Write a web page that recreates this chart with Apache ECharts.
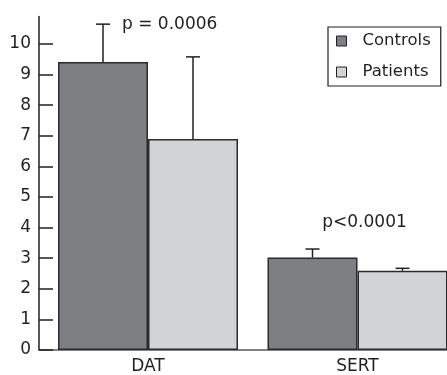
<!DOCTYPE html>
<html><head><meta charset="utf-8">
<script src="https://cdn.jsdelivr.net/npm/echarts@6/dist/echarts.min.js"></script>
<style>html,body{margin:0;padding:0;background:#fff}#c{width:447px;height:375px}</style>
</head><body><div id="c"></div>
<script>
var categories = ['DAT', 'SERT'];
var controls = [9.41, 3.02];
var controlsUpper = [10.65, 3.30];
var patients = [6.90, 2.59];
var patientsUpper = [9.58, 2.67];
var yTicks = [0,1,2,3,4,5,6,7,8,9,10];
var pLabels = ['p = 0.0006', 'p<0.0001'];

var FONT = 'DejaVu Sans';
var TXT = '#231f20';
var chart = echarts.init(document.getElementById('c'));

function pts(vals){ return vals.map(function(v,i){ return [i+1, v]; }); }
function errData(means, ups){ return means.map(function(m,i){ return [i+1, m, ups[i]]; }); }
function errSeries(means, ups, dir){
  return {
    type:'custom', silent:true, z:5, clip:false,
    data: errData(means, ups),
    encode:{x:0, y:[1,2]},
    renderItem:function(params, api){
      var c = api.coord([api.value(0), api.value(1)]);
      var t = api.coord([api.value(0), api.value(2)]);
      var x = c[0] + dir*45;
      var s = {stroke:TXT, lineWidth:1.5};
      return {type:'group', children:[
        {type:'line', shape:{x1:x,y1:c[1],x2:x,y2:t[1]}, style:s},
        {type:'line', shape:{x1:x-7,y1:t[1],x2:x+7,y2:t[1]}, style:s}
      ]};
    }
  };
}

chart.setOption({
  animation:false,
  textStyle:{fontFamily:FONT, color:TXT},
  grid:{left:39, right:0, top:16.5, bottom:25, containLabel:false},
  legend:{
    orient:'vertical', left:328, top:27,
    data:['Controls','Patients'],
    itemWidth:10, itemHeight:10, itemGap:11,
    icon:'rect',
    borderColor:TXT, borderWidth:1.2,
    padding:[4,10,4,8],
    textStyle:{fontFamily:FONT, fontSize:16.5, color:TXT, lineHeight:20, padding:[0,0,0,11]},
    itemStyle:{borderColor:TXT, borderWidth:1}
  },
  xAxis:{
    type:'value', min:0.4797, max:2.4272,
    splitLine:{show:false},
    axisLine:{show:true, onZero:false, lineStyle:{color:'#58585a', width:1.5}},
    axisTick:{show:false},
    axisLabel:{customValues:[1,2], formatter:function(v){return categories[Math.round(v)-1];},
      fontFamily:FONT, fontSize:17, color:TXT, margin:8}
  },
  yAxis:{
    type:'value', min:0, max:10.9, interval:1,
    splitLine:{show:false},
    axisLine:{show:true, lineStyle:{color:TXT, width:1.5}},
    axisTick:{show:true, inside:true, length:14, customValues:yTicks, lineStyle:{color:TXT, width:1.5}},
    axisLabel:{customValues:yTicks, fontFamily:FONT, fontSize:17, color:TXT, margin:8}
  },
  series:[
    {name:'Controls', type:'bar', data:pts(controls), barWidth:90, barGap:'0%', clip:false,
      itemStyle:{color:'#7e7f83', borderColor:'#2b2b2d', borderWidth:1.5}},
    {name:'Patients', type:'bar', data:pts(patients), barWidth:90, barGap:'0%', clip:false,
      itemStyle:{color:'#d2d3d5', borderColor:'#2b2b2d', borderWidth:1.5}},
    errSeries(controls, controlsUpper, -1),
    errSeries(patients, patientsUpper, 1)
  ]
});

// p-value annotations anchored to the data via the axes
var a1 = chart.convertToPixel({gridIndex:0}, [1, controlsUpper[0]]);
var a2 = chart.convertToPixel({gridIndex:0}, [2, controlsUpper[1]]);
chart.setOption({
  graphic:[
    {type:'text', x:a1[0]-45+19, y:a1[1], style:{text:pLabels[0], font:'17px "DejaVu Sans"', fill:TXT, textVerticalAlign:'middle', textAlign:'left'}},
    {type:'text', x:a2[0]+7, y:a2[1]-26, style:{text:pLabels[1], font:'17px "DejaVu Sans"', fill:TXT, textVerticalAlign:'middle', textAlign:'center'}}
  ]
});
</script></body></html>
